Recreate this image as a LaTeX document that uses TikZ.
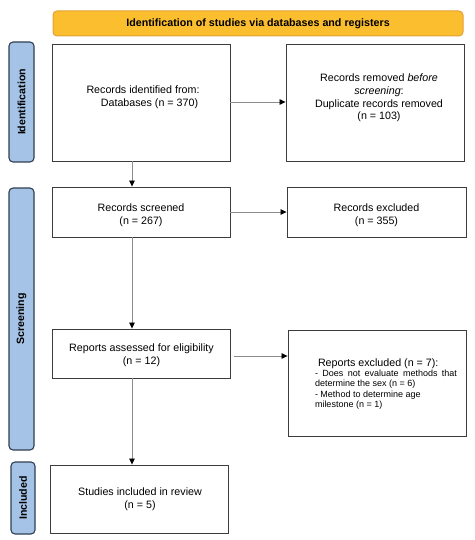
\documentclass[tikz,border=0pt]{standalone}
\usepackage{fontspec}
\setmainfont{Liberation Sans}
\usetikzlibrary{arrows.meta,positioning,calc}
\definecolor{bannerfill}{HTML}{FBBE2E}
\definecolor{bannerdraw}{HTML}{E2A236}
\definecolor{sidefill}{HTML}{A5C3E6}
\definecolor{sidedraw}{HTML}{2F3E52}
\definecolor{boxdraw}{HTML}{3C3C3C}
\definecolor{arrowgray}{HTML}{8C8C8C}
\begin{document}
\begin{tikzpicture}[x=1pt,y=-1pt,
  box/.style={draw=boxdraw, line width=0.9pt, fill=white, inner sep=0pt},
  txt/.style={align=center, inner sep=0pt, font=\fontsize{10.7}{12.8}\selectfont},
  side/.style={draw=sidedraw, line width=1.1pt, fill=sidefill, rounded corners=4pt, inner sep=0pt},
  sidetxt/.style={rotate=90, font=\fontsize{10.6}{12}\selectfont\bfseries, inner sep=0pt},
  flow/.style={draw=arrowgray, line width=0.8pt, -{Triangle[width=5.5pt,length=6pt,color=black]}}
]
\useasboundingbox (0,0) rectangle (474,540);

% banner
\node[draw=bannerdraw, line width=1pt, fill=bannerfill, rounded corners=4pt,
      minimum width=410pt, minimum height=25pt, inner sep=0pt,
      font=\fontsize{10.7}{12}\selectfont\bfseries] (banner) at (258,23.5)
      {Identification of studies via databases and registers};

% side labels
\node[side, minimum width=25pt, minimum height=120pt] (sideid) at (21.5,102) {};
\node[sidetxt] (sideidt) at (sideid.center) {Identification};
\node[side, minimum width=25pt, minimum height=262pt] (sidescr) at (21.5,319) {};
\node[sidetxt] (sidescrt) at (sidescr.center) {Screening};
\node[side, minimum width=24pt, minimum height=72pt] (sideinc) at (23,498) {};
\node[sidetxt] (sideinct) at (sideinc.center) {Included};

% boxes
\node[box, minimum width=178pt, minimum height=117pt] (b1) at (141,102.5) {};
\node[txt] (b1t) at (143,97) {Records identified from:\\\hspace*{13pt}Databases (n = 370)};

\node[box, minimum width=178pt, minimum height=117pt] (b2) at (375,102.5) {};
\node[txt] (b2t) at (379,98) {Records removed \emph{before}\\\emph{screening}:\\Duplicate records removed\\(n = 103)};

\node[box, minimum width=178pt, minimum height=50pt] (b3) at (141,212) {};
\node[txt] (b3t) at (141,215) {Records screened\\(n = 267)};

\node[box, minimum width=179pt, minimum height=50pt] (b4) at (376.5,212) {};
\node[txt] (b4t) at (376.5,215) {Records excluded\\(n = 355)};

\node[box, minimum width=178pt, minimum height=49pt] (b5) at (141,353.5) {};
\node[txt] (b5t) at (141.5,355.5) {Reports assessed for eligibility\\(n = 12)};

\node[box, minimum width=178pt, minimum height=106pt] (b6) at (377,383) {};
\node[inner sep=0pt, text width=142pt, align=justify,
      font=\fontsize{9}{10.3}\selectfont] (b6t) at (386,384)
      {\hspace*{3pt}{\fontsize{10.7}{11}\selectfont Reports excluded (n = 7):}\\
       - Does not evaluate methods that determine the sex (n = 6)\\
       - Method to determine age\\milestone (n = 1)};

\node[box, minimum width=178pt, minimum height=68pt] (b7) at (139,499) {};
\node[txt] (b7t) at (140,499.5) {Studies included in review\\(n = 5)};

% connectors
\draw[flow] (b1.east |- 0,102) -- (b2.west |- 0,102);
\draw[flow] (b3.east |- 0,212) -- (b4.west |- 0,212);
\draw[flow] ($(b5.east |- 0,356)+(4,0)$) -- (b6.west |- 0,356);
\draw[flow] (b1.south -| 132,0) -- (b3.north -| 132,0);
\draw[flow] (b3.south -| 132,0) -- (b5.north -| 132,0);
\draw[flow] (b5.south -| 132,0) -- (b7.north -| 132,0);
\end{tikzpicture}
\end{document}
